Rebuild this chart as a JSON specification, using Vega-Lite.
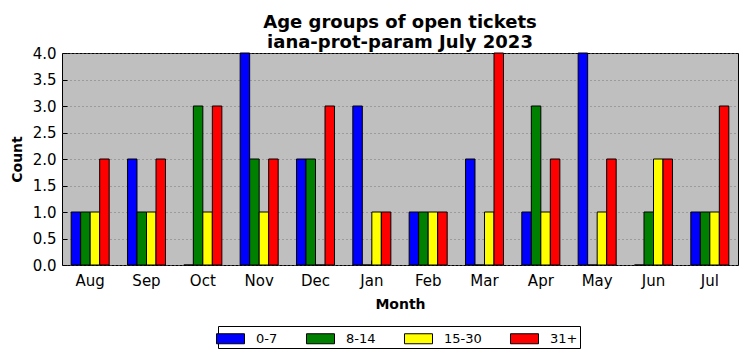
{
  "$schema": "https://vega.github.io/schema/vega-lite/v6.json",
  "width": 676,
  "height": 212,
  "autosize": {"type": "none"},
  "padding": {"left": 62, "top": 53, "right": 9, "bottom": 96},
  "background": "white",
  "title": {
    "text": ["Age groups of open tickets", "iana-prot-param July 2023"],
    "font": "DejaVu Sans",
    "fontSize": 18,
    "fontWeight": "bold",
    "color": "black",
    "anchor": "middle",
    "offset": -6
  },
  "config": {
    "font": "DejaVu Sans",
    "view": {"fill": "#bfbfbf", "stroke": "black", "strokeWidth": 1}
  },
  "data": {
    "values": [
      {"month": "Aug", "group": "0-7", "count": 1}, {"month": "Aug", "group": "8-14", "count": 1}, {"month": "Aug", "group": "15-30", "count": 1}, {"month": "Aug", "group": "31+", "count": 2},
      {"month": "Sep", "group": "0-7", "count": 2}, {"month": "Sep", "group": "8-14", "count": 1}, {"month": "Sep", "group": "15-30", "count": 1}, {"month": "Sep", "group": "31+", "count": 2},
      {"month": "Oct", "group": "0-7", "count": 0}, {"month": "Oct", "group": "8-14", "count": 3}, {"month": "Oct", "group": "15-30", "count": 1}, {"month": "Oct", "group": "31+", "count": 3},
      {"month": "Nov", "group": "0-7", "count": 4}, {"month": "Nov", "group": "8-14", "count": 2}, {"month": "Nov", "group": "15-30", "count": 1}, {"month": "Nov", "group": "31+", "count": 2},
      {"month": "Dec", "group": "0-7", "count": 2}, {"month": "Dec", "group": "8-14", "count": 2}, {"month": "Dec", "group": "15-30", "count": 0}, {"month": "Dec", "group": "31+", "count": 3},
      {"month": "Jan", "group": "0-7", "count": 3}, {"month": "Jan", "group": "8-14", "count": 0}, {"month": "Jan", "group": "15-30", "count": 1}, {"month": "Jan", "group": "31+", "count": 1},
      {"month": "Feb", "group": "0-7", "count": 1}, {"month": "Feb", "group": "8-14", "count": 1}, {"month": "Feb", "group": "15-30", "count": 1}, {"month": "Feb", "group": "31+", "count": 1},
      {"month": "Mar", "group": "0-7", "count": 2}, {"month": "Mar", "group": "8-14", "count": 0}, {"month": "Mar", "group": "15-30", "count": 1}, {"month": "Mar", "group": "31+", "count": 4},
      {"month": "Apr", "group": "0-7", "count": 1}, {"month": "Apr", "group": "8-14", "count": 3}, {"month": "Apr", "group": "15-30", "count": 1}, {"month": "Apr", "group": "31+", "count": 2},
      {"month": "May", "group": "0-7", "count": 4}, {"month": "May", "group": "8-14", "count": 0}, {"month": "May", "group": "15-30", "count": 1}, {"month": "May", "group": "31+", "count": 2},
      {"month": "Jun", "group": "0-7", "count": 0}, {"month": "Jun", "group": "8-14", "count": 1}, {"month": "Jun", "group": "15-30", "count": 2}, {"month": "Jun", "group": "31+", "count": 2},
      {"month": "Jul", "group": "0-7", "count": 1}, {"month": "Jul", "group": "8-14", "count": 1}, {"month": "Jul", "group": "15-30", "count": 1}, {"month": "Jul", "group": "31+", "count": 3}
    ]
  },
  "mark": {"type": "bar", "stroke": "black", "strokeWidth": 1},
  "encoding": {
    "x": {
      "field": "month", "type": "nominal", "sort": null,
      "scale": {"paddingInner": 0.325, "paddingOuter": 0.1625},
      "axis": {
        "title": "Month", "titleFontSize": 14, "titleFontWeight": "bold", "titleColor": "black", "titlePadding": 9,
        "labelAngle": 0, "labelFontSize": 15, "labelColor": "black", "labelPadding": 13,
        "domain": false, "ticks": true, "tickSize": -5, "tickColor": "black", "tickBand": "center", "grid": false
      }
    },
    "xOffset": {"field": "group", "type": "nominal", "sort": ["0-7", "8-14", "15-30", "31+"], "scale": {"paddingInner": 0, "paddingOuter": 0}},
    "y": {
      "field": "count", "type": "quantitative",
      "scale": {"domain": [0, 4], "nice": false, "zero": true},
      "axis": {
        "title": "Count", "titleFontSize": 14, "titleFontWeight": "bold", "titleColor": "black", "titlePadding": 8,
        "values": [0, 0.5, 1, 1.5, 2, 2.5, 3, 3.5, 4], "format": ".1f",
        "labelFontSize": 15, "labelColor": "black", "labelPadding": 11,
        "domain": false, "tickSize": -5, "tickColor": "black",
        "grid": true, "gridColor": "#777777", "gridDash": [1, 3], "gridWidth": 1
      }
    },
    "color": {
      "field": "group", "type": "nominal",
      "sort": ["0-7", "8-14", "15-30", "31+"],
      "scale": {"domain": ["0-7", "8-14", "15-30", "31+"], "range": ["#0000ff", "#008000", "#ffff00", "#ff0000"]},
      "legend": {
        "title": null, "orient": "none", "legendX": 156, "legendY": 273,
        "direction": "horizontal", "columns": 4, "columnPadding": 26,
        "strokeColor": "black", "padding": 2, "fillColor": "white",
        "symbolType": "M-1.4,-0.5L1.4,-0.5L1.4,0.5L-1.4,0.5Z", "symbolSize": 400,
        "symbolStrokeColor": "black", "symbolStrokeWidth": 1,
        "labelFontSize": 13, "labelColor": "black", "labelOffset": 15
      }
    }
  }
}
